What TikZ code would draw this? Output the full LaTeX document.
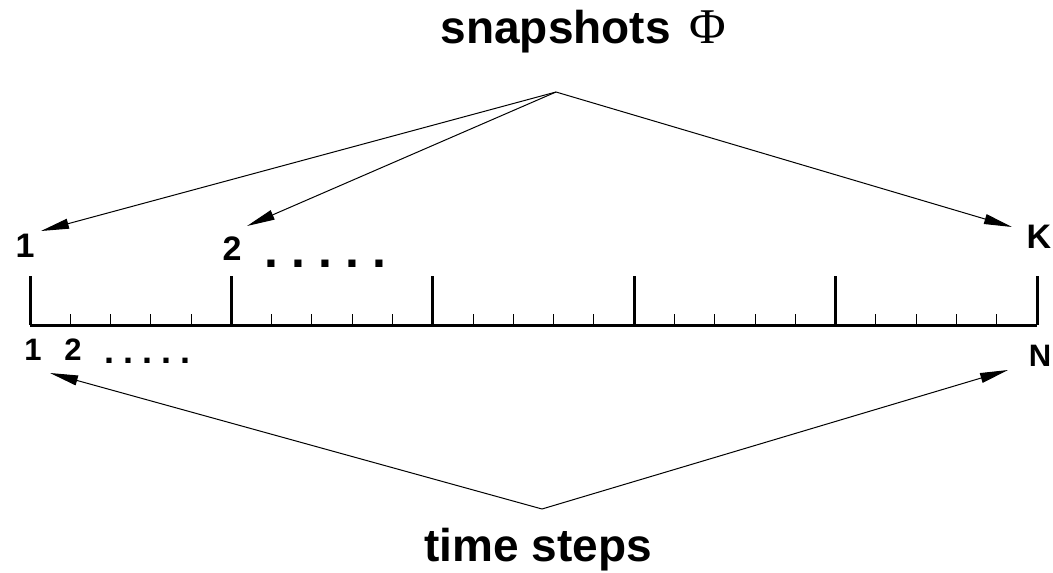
\documentclass[tikz,border=0pt]{standalone}
\usepackage{fontspec}
\setmainfont{Liberation Sans}
\newfontfamily\phifont{Liberation Serif}
\usetikzlibrary{arrows.meta}
\newcommand{\dotrow}[1]{.\hspace{#1}.\hspace{#1}.\hspace{#1}.\hspace{#1}.}
\begin{document}
\begin{tikzpicture}[x=1pt,y=-1pt,
  conn/.style={line width=1pt,-{Triangle[length=28pt,width=10pt]}},
  axisline/.style={line width=3pt},
  majortick/.style={line width=3pt},
  minortick/.style={line width=1pt},
  lbltop/.style={font=\fontsize{34}{34}\selectfont\bfseries, inner sep=0pt, anchor=base},
  lblbot/.style={font=\fontsize{31}{31}\selectfont\bfseries, inner sep=0pt, anchor=base},
  heading/.style={font=\fontsize{46}{46}\selectfont\bfseries, inner sep=0pt},
  dotsbig/.style={font=\fontsize{50}{50}\selectfont\bfseries, inner sep=0pt, anchor=base},
  dotssmall/.style={font=\fontsize{36}{36}\selectfont\bfseries, inner sep=0pt, anchor=base}
]
\useasboundingbox (0,0) rectangle (1053,573);

% axis and ticks
\draw[axisline] (30,325) -- (1037,325);
\foreach \i in {0,...,5}{
  \draw[majortick] ({30+201.4*\i},325) -- ({30+201.4*\i},276);
}
\foreach \i in {0,...,4}{
  \foreach \j in {1,...,4}{
    \draw[minortick] ({30+201.4*\i+40.28*\j},325) -- ({30+201.4*\i+40.28*\j},314);
  }
}

% labels
\node[heading, anchor=base west] (title) at (440.5,43) {snapshots\hspace{19pt}{\phifont\mdseries\fontsize{50}{50}\selectfont Φ}};
\node[heading, anchor=base] (steps) at (538,561) {time steps};
\node[lbltop] (top1) at (25,257) {1};
\node[lbltop] (top2) at (232,260) {2};
\node[lbltop] (topK) at (1039,248) {K};
\node[dotsbig] (dotsTop) at (325.5,267) {\dotrow{13.1pt}};
\node[lblbot] (bot1) at (33,360) {1};
\node[lblbot] (bot2) at (73,360) {2};
\node[lblbot] (botN) at (1040,366) {N};
\node[dotssmall] (dotsBot) at (147.5,363.5) {\dotrow{9pt}};

% connectors
\coordinate (apexTop) at (556,92);
\coordinate (apexBot) at (542,509);
\coordinate (tip1) at (41,231);
\coordinate (tip2) at (247,226);
\coordinate (tipK) at (1012,227);
\coordinate (tipB1) at (50,373);
\coordinate (tipBN) at (1008,370);
\draw[conn] (apexTop) -- (tip1);
\draw[conn] (apexTop) -- (tip2);
\draw[conn] (apexTop) -- (tipK);
\draw[conn] (apexBot) -- (tipB1);
\draw[conn] (apexBot) -- (tipBN);
\end{tikzpicture}
\end{document}
